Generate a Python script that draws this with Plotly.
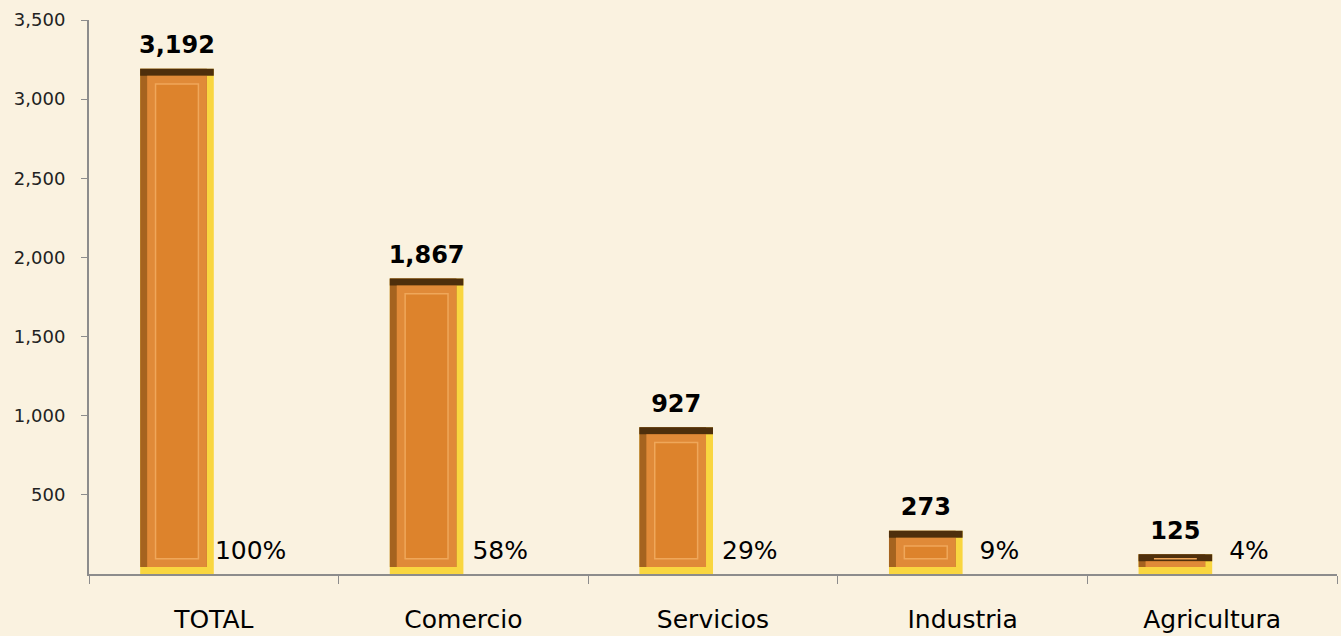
import plotly.graph_objects as go

categories = ["TOTAL", "Comercio", "Servicios", "Industria", "Agricultura"]
values = [3192, 1867, 927, 273, 125]
pct_labels = ["100%", "58%", "29%", "9%", "4%"]
y_ticks = [500, 1000, 1500, 2000, 2500, 3000, 3500]

BG = "#FAF2E0"
FONT = "DejaVu Sans"

# bar geometry (category units / value units)
OFF = -0.295
W = 0.295
BX = 0.028     # bevel thickness in category units
BY = 44        # bevel thickness in value units
LABEL_PAD = 40  # gap between bar top and value label, value units
LABEL_H = 38    # height of invisible carrier for % labels

fig = go.Figure()

common = dict(x=categories, hoverinfo="skip", showlegend=False)

# 1. full bar (yellow right/bottom bevel)
fig.add_trace(go.Bar(
    y=values, base=[0] * len(values), offset=OFF, width=W,
    marker=dict(color="#F9D640", line=dict(width=0)), **common))

# 2. left brown bevel
fig.add_trace(go.Bar(
    y=[v - BY for v in values], base=[BY] * len(values), offset=OFF, width=W - BX,
    marker=dict(color="#A5631F", line=dict(width=0)), **common))

# 3. top dark bevel
fig.add_trace(go.Bar(
    y=[BY] * len(values), base=[v - BY for v in values], offset=OFF, width=W,
    marker=dict(color="#4E2F0C", line=dict(width=0)), **common))

# 4. face
fig.add_trace(go.Bar(
    y=[max(v - 2 * BY, 0) for v in values], base=[BY] * len(values),
    offset=OFF + BX, width=W - 2 * BX,
    marker=dict(color="#E08A38", line=dict(width=0)), **common))

# 5. inner panel
fig.add_trace(go.Bar(
    y=[max(v - 4.4 * BY, 0) for v in values], base=[2.2 * BY] * len(values),
    offset=OFF + 2.2 * BX, width=W - 4.4 * BX,
    marker=dict(color="#DD832C", line=dict(width=1.5, color="#EFA75A")), **common))

# 6. value labels on an invisible carrier bar
fig.add_trace(go.Bar(
    y=[v + LABEL_PAD for v in values], base=[0] * len(values), offset=OFF, width=W,
    marker=dict(color="rgba(0,0,0,0)", line=dict(width=0)),
    text=[f"{v:,}" for v in values], textposition="outside",
    textfont=dict(family=FONT, size=24, color="black", weight="bold"),
    constraintext="none", cliponaxis=False, **common))

# 7. percentage labels on an invisible carrier bar
fig.add_trace(go.Bar(
    y=[LABEL_H] * len(values), base=[0] * len(values), offset=0, width=W,
    marker=dict(color="rgba(0,0,0,0)", line=dict(width=0)),
    text=pct_labels, textposition="outside", constraintext="none",
    textfont=dict(family=FONT, size=25, color="black"), cliponaxis=False, **common))

fig.update_layout(
    width=1341, height=636,
    barmode="overlay",
    paper_bgcolor=BG, plot_bgcolor=BG,
    margin=dict(l=89, r=4, t=20, b=62),
    font=dict(family=FONT, color="black"),
    showlegend=False,
    xaxis=dict(
        type="category", tickson="boundaries", ticks="outside", ticklen=8,
        tickcolor="#8c8c8c", showline=True, linecolor="#8c8c8c", linewidth=2,
        showgrid=False, tickfont=dict(family=FONT, size=25, color="black"),
        ticklabelstandoff=22, range=[-0.5, 4.5], automargin=False,
    ),
    yaxis=dict(
        range=[0, 3500], tickvals=y_ticks, tickformat=",", ticks="outside", ticklen=6,
        tickcolor="#8c8c8c", showline=True, linecolor="#8c8c8c", linewidth=2,
        showgrid=False, zeroline=False, ticklabelstandoff=12, automargin=False,
        tickfont=dict(family=FONT, size=18, color="#222222"),
    ),
)

fig.write_html("out.html", config={"displayModeBar": False},
               post_script="document.body.style.margin='0';")
